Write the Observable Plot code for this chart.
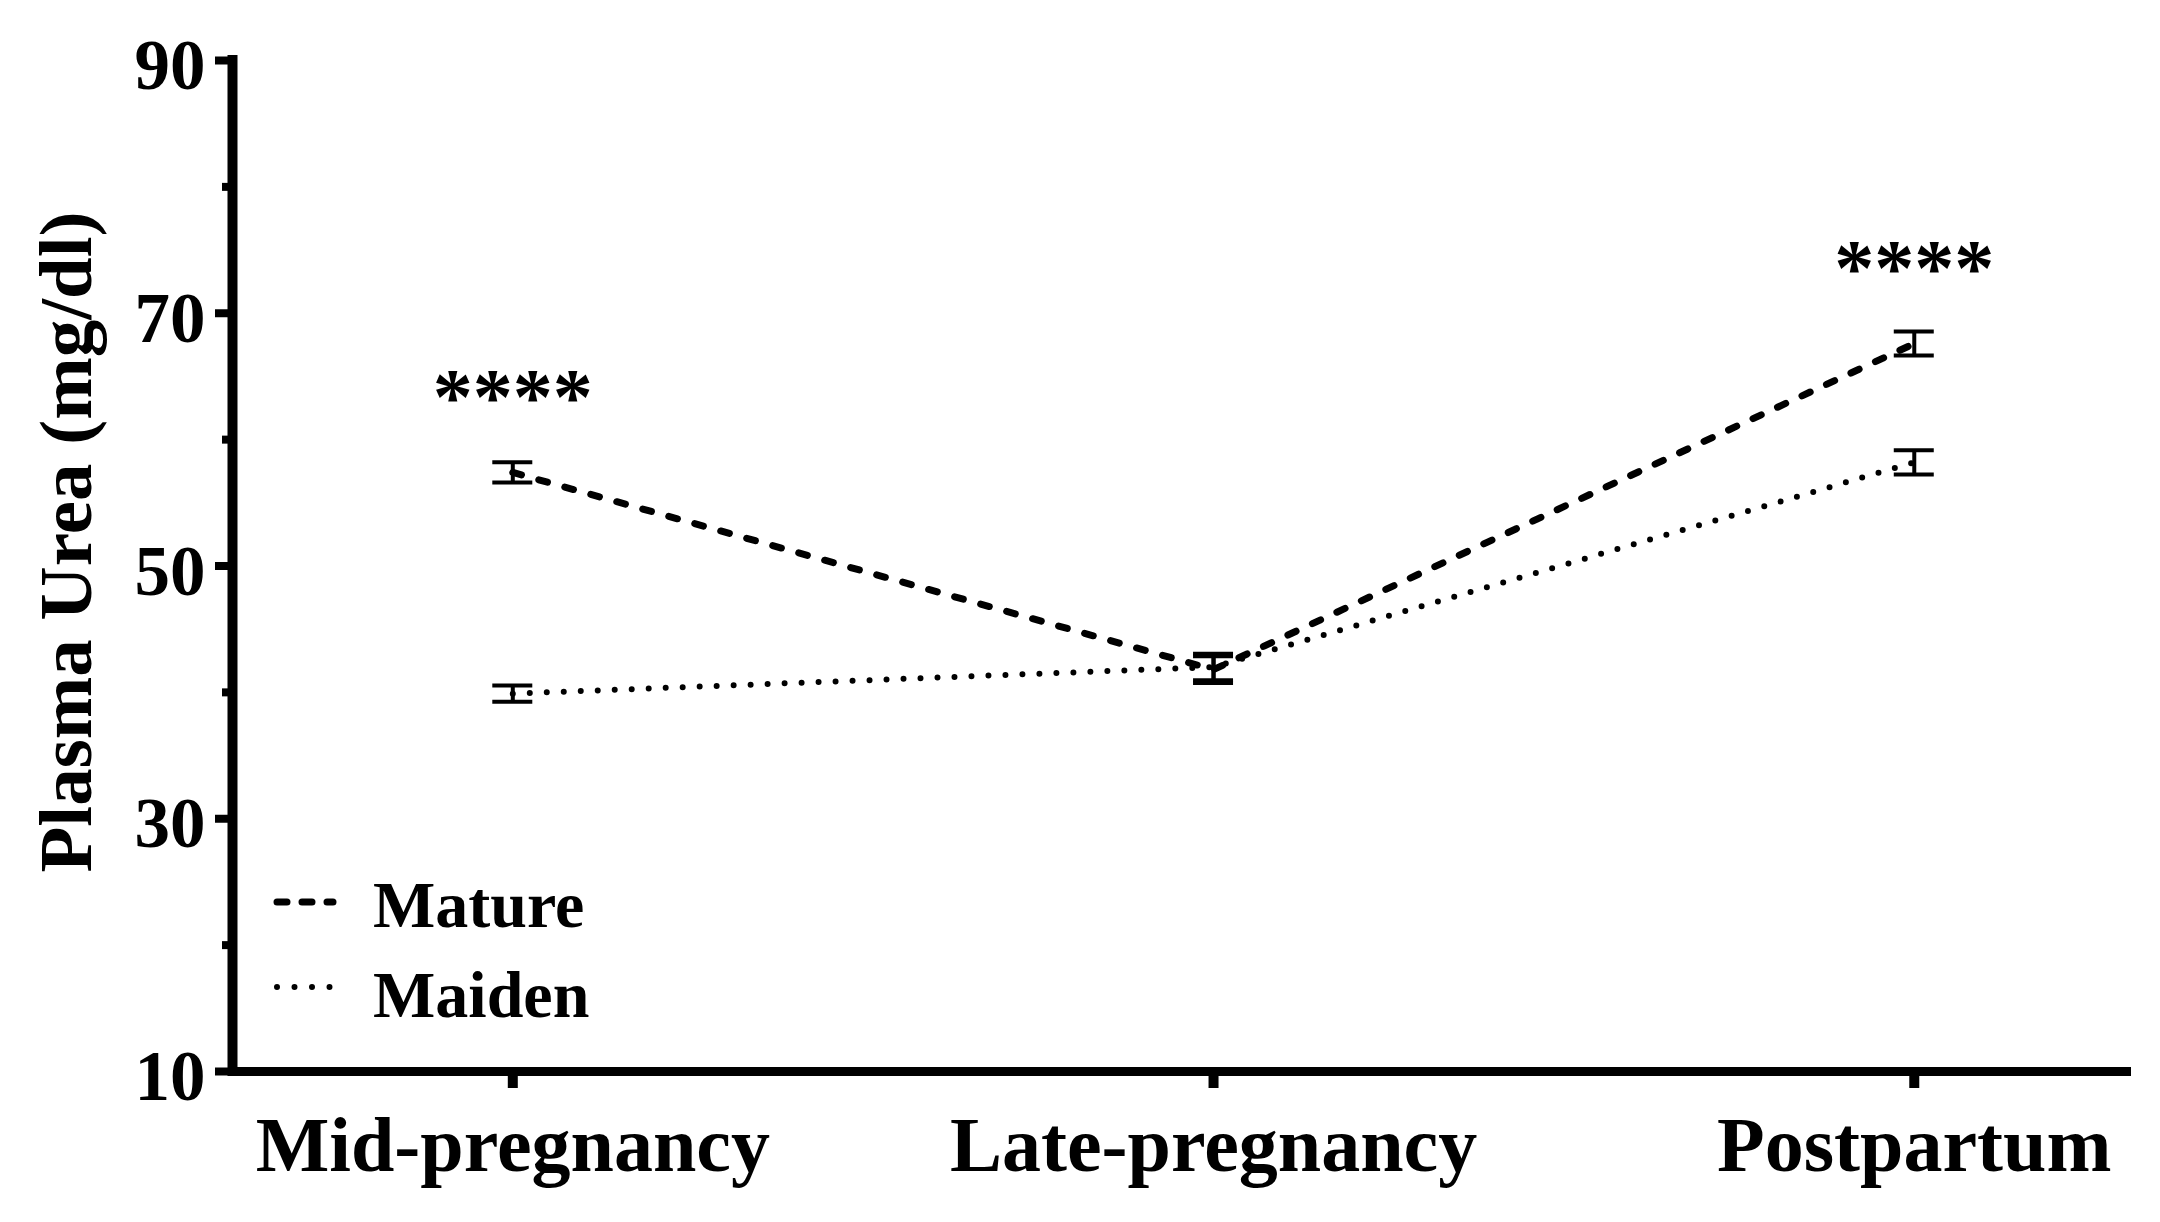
<!DOCTYPE html>
<html>
<head>
<meta charset="utf-8">
<script src="https://cdn.jsdelivr.net/npm/d3@7"></script>
<script src="https://cdn.jsdelivr.net/npm/@observablehq/plot@0.6"></script>
<style>
  html, body { margin: 0; padding: 0; background: #fff; }
  #wrap { position: relative; width: 2160px; height: 1222px; }
  #wrap svg { display: block; }
  #legend { position: absolute; left: 0; top: 0; pointer-events: none; }
</style>
</head>
<body>
<div id="wrap"></div>
<script>
// ---- data ----
const categories = ["Mid-pregnancy", "Late-pregnancy", "Postpartum"];
const seriesNames = ["Mature", "Maiden"];
const matureMean = [57.4, 41.8, 67.6];
const matureErr  = [0.8, 1.05, 0.95];
const maidenMean = [39.9, 42.0, 58.2];
const maidenErr  = [0.65, 1.05, 0.95];
const yMajorTicks = [10, 30, 50, 70, 90];
const yMinorTicks = [20, 40, 60, 80];
const yTitle = "Plasma Urea (mg/dl)";
const starLabels = ["****", "****"];
const starCategory = [0, 2];
const starY = [63.3, 73.5];

// ---- layout ----
const W = 2160, H = 1222;
const mL = 232, mR = 29, mT = 60, mB = 151;
const xDomain = [-0.4, categories.length - 1 + 0.31];
const yDomain = [10, 90];
const ux = (xDomain[1] - xDomain[0]) / (W - mL - mR); // data units per px (x)
const uy = (yDomain[1] - yDomain[0]) / (H - mT - mB); // data units per px (y)
const FONT = "'Liberation Serif', 'DejaVu Serif', serif";

const idx = categories.map((_, i) => i);
const points = [];
seriesNames.forEach((s, k) => {
  const means = k === 0 ? matureMean : maidenMean;
  const errs = k === 0 ? matureErr : maidenErr;
  idx.forEach(i => points.push({series: s, i, mean: means[i], lo: means[i] - errs[i], hi: means[i] + errs[i]}));
});
const caps = points.flatMap(p => [{i: p.i, y: p.lo}, {i: p.i, y: p.hi}]);
const stars = starLabels.map((t, j) => ({t, i: starCategory[j], y: starY[j]}));

const chart = Plot.plot({
  width: W,
  height: H,
  marginLeft: mL,
  marginRight: mR,
  marginTop: mT,
  marginBottom: mB,
  style: {fontFamily: FONT, background: "white", color: "black"},
  x: {type: "linear", domain: xDomain, axis: null},
  y: {type: "linear", domain: yDomain, axis: null},
  marks: [
    // axes
    Plot.ruleY([yDomain[0]], {stroke: "black", strokeWidth: 9}),
    Plot.ruleX([xDomain[0]], {y1: yDomain[0], y2: yDomain[1], stroke: "black", strokeWidth: 10, strokeLinecap: "square"}),
    Plot.ruleY(yMajorTicks, {y: d => d, x1: xDomain[0] - 17 * ux, x2: xDomain[0], stroke: "black", strokeWidth: 8}),
    Plot.ruleY(yMinorTicks, {y: d => d, x1: xDomain[0] - 10 * ux, x2: xDomain[0], stroke: "black", strokeWidth: 8}),
    Plot.ruleX(idx, {x: d => d, y1: yDomain[0], y2: yDomain[0] - 17 * uy, stroke: "black", strokeWidth: 10}),
    Plot.text(yMajorTicks, {x: xDomain[0], y: d => d, text: d => String(d), textAnchor: "end", dx: -27, dy: 6, fontSize: 71, fontWeight: "bold", fill: "black"}),
    Plot.text(idx, {x: d => d, y: yDomain[0], text: d => categories[d], lineAnchor: "bottom", dy: 99, fontSize: 78, fontWeight: "bold", fill: "black"}),
    Plot.text([yTitle], {frameAnchor: "left", text: d => d, rotate: -90, textAnchor: "middle", lineAnchor: "bottom", dx: -142, dy: -24, fontSize: 75, fontWeight: "bold", fill: "black"}),
    // series lines
    Plot.line(points.filter(p => p.series === "Mature"), {x: "i", y: "mean", stroke: "black", strokeWidth: 7, strokeLinecap: "round", strokeDasharray: "9 18"}),
    Plot.line(points.filter(p => p.series === "Maiden"), {x: "i", y: "mean", stroke: "black", strokeWidth: 6, strokeLinecap: "round", strokeDasharray: "0 17"}),
    // error bars
    Plot.ruleX(points, {x: "i", y1: "lo", y2: "hi", stroke: "black", strokeWidth: 4}),
    Plot.ruleY(caps, {y: "y", x1: d => d.i - 20 * ux, x2: d => d.i + 20 * ux, stroke: "black", strokeWidth: 4}),
    // significance
    Plot.text(stars, {x: "i", y: "y", text: "t", fontSize: 80, fontWeight: "bold", fill: "black"})
  ]
});
const wrap = document.getElementById("wrap");
wrap.appendChild(chart);

// legend overlay
const leg = d3.select(wrap).append("svg").attr("id", "legend").attr("width", W).attr("height", H);
const legItems = [
  {name: seriesNames[0], y: 902, tb: 927, w: 7, dash: "10 15"},
  {name: seriesNames[1], y: 987, tb: 1017, w: 6, dash: "0 17.5"}
];
legItems.forEach(it => {
  leg.append("line").attr("x1", 277).attr("x2", 333).attr("y1", it.y).attr("y2", it.y)
    .attr("stroke", "black").attr("stroke-width", it.w).attr("stroke-linecap", "round").attr("stroke-dasharray", it.dash);
  leg.append("text").attr("x", 373).attr("y", it.tb).text(it.name)
    .attr("font-family", FONT).attr("font-size", 66).attr("font-weight", "bold").attr("fill", "black");
});
</script>
</body>
</html>
